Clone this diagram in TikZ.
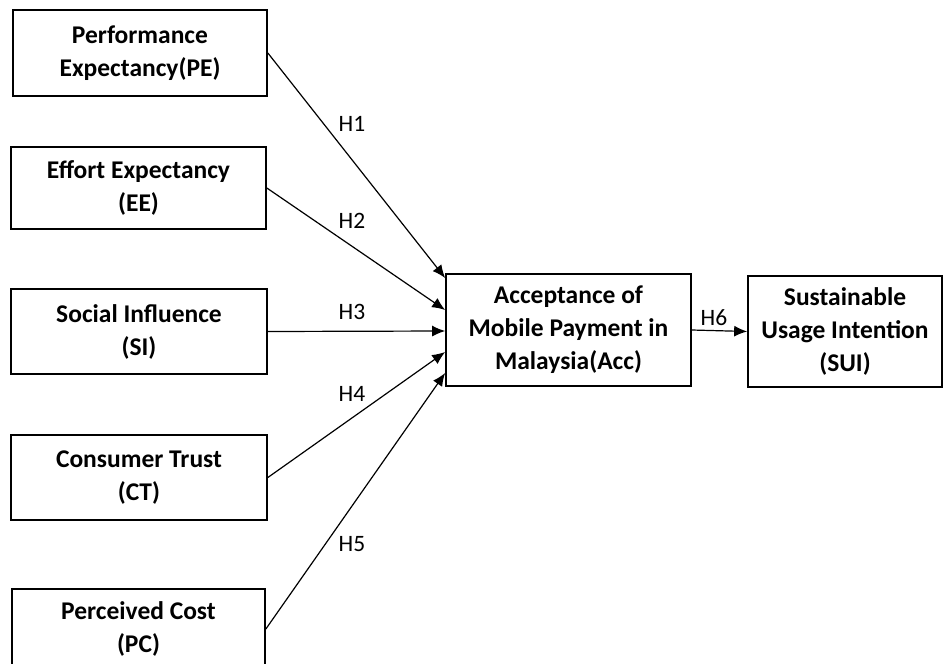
\documentclass[tikz,border=0pt]{standalone}
\usepackage{fontspec}
\setmainfont{Carlito}
\usetikzlibrary{arrows.meta}
\begin{document}
\begin{tikzpicture}[x=1pt,y=-1pt,
  box/.style={draw, line width=1.7pt, inner sep=0pt, align=center,
    font=\bfseries\fontsize{25.5}{33}\selectfont},
  arr/.style={line width=1.2pt, -{Latex[length=13pt,width=11pt]}},
  hlab/.style={inner sep=0pt, font=\fontsize{23.5}{28}\selectfont}]
\clip (0,0) rectangle (946,664);
\fill[white] (0,0) rectangle (946,664);
\node[box, minimum width=254pt, minimum height=86pt] (PE) at (140,53) {Performance\\Expectancy(PE)};
\node[box, minimum width=255pt, minimum height=82pt] (EE) at (138.5,188) {Effort Expectancy\\(EE)};
\node[box, minimum width=256pt, minimum height=85pt] (SI) at (139,331.5) {Social Influence\\(SI)};
\node[box, minimum width=256pt, minimum height=85pt] (CT) at (139,477.5) {Consumer Trust\\(CT)};
\node[box, minimum width=253pt, minimum height=80pt] (PC) at (138.5,629) {Perceived Cost\\(PC)};
\node[box, minimum width=245pt, minimum height=112pt] (Acc) at (568.5,330) {Acceptance of\\Mobile Payment in\\Malaysia(Acc)};
\node[box, minimum width=194pt, minimum height=111pt] (SUI) at (845,331.5) {Sustainable\\Usage Intention\\(SUI)};
\draw[arr] (PE.east) -- ([yshift=52pt]Acc.west);
\draw[arr] (EE.east) -- ([yshift=20pt]Acc.west);
\draw[arr] (SI.east) -- ([yshift=-1pt]Acc.west);
\draw[arr] (CT.east) -- ([yshift=-22pt]Acc.west);
\draw[arr] (PC.east) -- ([yshift=-43pt]Acc.west);
\draw[arr] (Acc.east) -- (SUI.west);
\node[hlab] (h1) at (352,124) {H1};
\node[hlab] (h2) at (352,221) {H2};
\node[hlab] (h3) at (352,312) {H3};
\node[hlab] (h4) at (352,394) {H4};
\node[hlab] (h5) at (352,544) {H5};
\node[hlab] (h6) at (714,318) {H6};
\end{tikzpicture}
\end{document}
